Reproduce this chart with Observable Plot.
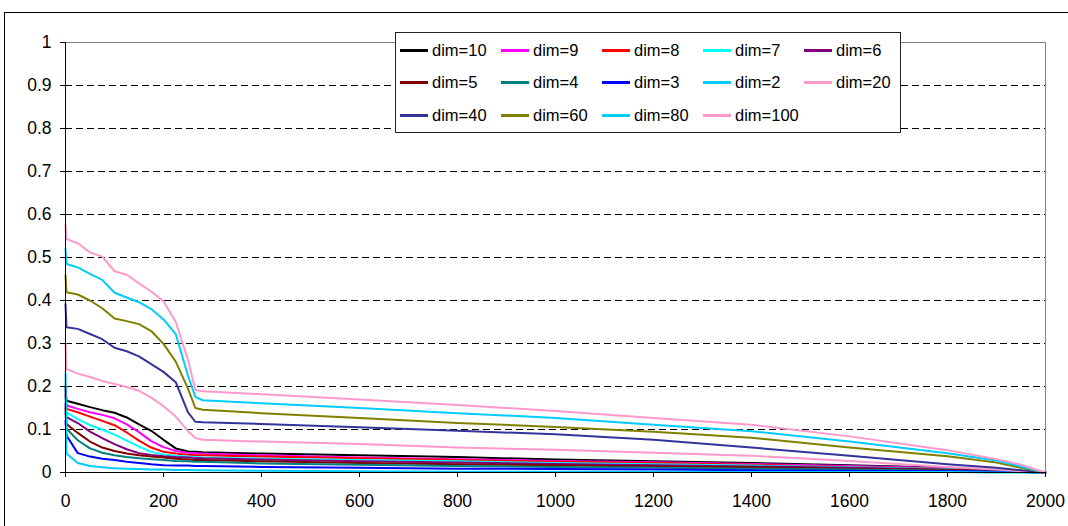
<!DOCTYPE html>
<html>
<head>
<meta charset="utf-8">
<script src="https://cdn.jsdelivr.net/npm/d3@7"></script>
<script src="https://cdn.jsdelivr.net/npm/@observablehq/plot@0.6"></script>
<style>
  html, body { margin: 0; padding: 0; background: #fff; overflow: hidden; }
  #wrap { position: relative; width: 1068px; height: 526px; overflow: hidden; font-family: "Liberation Sans", Arial, sans-serif; }
  #frame { position: absolute; left: 4px; top: 12px; width: 1080px; height: 540px; border: 1px solid #000; box-sizing: border-box; pointer-events: none; }
  #legend { position: absolute; left: 395px; top: 32px; width: 506px; height: 101px; box-sizing: border-box; border: 1px solid #222; background: #fff; }
  .item { position: absolute; display: flex; align-items: center; height: 20px; font-size: 16.5px; color: #000; white-space: nowrap; }
  .sw { width: 28px; height: 3px; margin-right: 4px; }
  svg text { font-family: "Liberation Sans", Arial, sans-serif !important; font-size: 17.5px !important; }
</style>
</head>
<body>
<div id="wrap"><div id="frame"></div></div>
<script>
// ---- data ----
const xs = [0, 2, 25, 50, 75, 100, 125, 150, 175, 200, 225, 250, 265, 280, 400, 600, 800, 1000, 1200, 1400, 1600, 1800, 1900, 1950, 2000];

const dim10  = [0.200, 0.167, 0.160, 0.152, 0.145, 0.139, 0.128, 0.112, 0.097, 0.076, 0.056, 0.049, 0.048, 0.047, 0.044, 0.040, 0.036, 0.030, 0.026, 0.022, 0.017, 0.011, 0.006, 0.003, 0];
const dim9   = [0.190, 0.156, 0.148, 0.140, 0.134, 0.126, 0.112, 0.094, 0.073, 0.059, 0.050, 0.046, 0.045, 0.044, 0.040, 0.035, 0.031, 0.027, 0.024, 0.020, 0.015, 0.010, 0.005, 0.002, 0];
const dim8   = [0.180, 0.148, 0.140, 0.130, 0.120, 0.110, 0.093, 0.074, 0.058, 0.048, 0.044, 0.041, 0.040, 0.040, 0.037, 0.033, 0.029, 0.025, 0.022, 0.018, 0.013, 0.009, 0.005, 0.002, 0];
const dim7   = [0.170, 0.140, 0.124, 0.110, 0.100, 0.088, 0.074, 0.060, 0.048, 0.042, 0.039, 0.037, 0.036, 0.035, 0.032, 0.029, 0.026, 0.022, 0.019, 0.016, 0.012, 0.008, 0.004, 0.002, 0];
const dim6   = [0.160, 0.129, 0.115, 0.095, 0.080, 0.066, 0.054, 0.045, 0.041, 0.038, 0.036, 0.035, 0.034, 0.033, 0.030, 0.026, 0.023, 0.020, 0.017, 0.014, 0.011, 0.007, 0.004, 0.002, 0];
const dim5   = [0.150, 0.113, 0.092, 0.072, 0.058, 0.050, 0.044, 0.040, 0.037, 0.035, 0.032, 0.030, 0.029, 0.029, 0.026, 0.022, 0.019, 0.017, 0.014, 0.012, 0.009, 0.006, 0.003, 0.001, 0];
const dim4   = [0.140, 0.102, 0.075, 0.056, 0.046, 0.040, 0.036, 0.033, 0.031, 0.029, 0.027, 0.026, 0.025, 0.025, 0.021, 0.018, 0.015, 0.013, 0.011, 0.009, 0.007, 0.004, 0.002, 0.001, 0];
const dim3   = [0.120, 0.086, 0.045, 0.037, 0.032, 0.029, 0.025, 0.022, 0.019, 0.017, 0.016, 0.016, 0.015, 0.015, 0.013, 0.011, 0.009, 0.008, 0.007, 0.005, 0.004, 0.003, 0.002, 0.001, 0];
const dim2   = [0.230, 0.044, 0.022, 0.015, 0.012, 0.010, 0.009, 0.008, 0.007, 0.007, 0.006, 0.006, 0.005, 0.005, 0.004, 0.003, 0.002, 0.002, 0.002, 0.001, 0.001, 0.001, 0, 0, 0];
const dim20  = [0.300, 0.241, 0.230, 0.222, 0.213, 0.206, 0.199, 0.190, 0.174, 0.154, 0.130, 0.096, 0.080, 0.076, 0.072, 0.066, 0.058, 0.053, 0.046, 0.039, 0.027, 0.013, 0.007, 0.003, 0];
const dim40  = [0.392, 0.338, 0.334, 0.322, 0.310, 0.290, 0.282, 0.270, 0.252, 0.234, 0.210, 0.140, 0.118, 0.117, 0.113, 0.105, 0.097, 0.089, 0.076, 0.058, 0.039, 0.019, 0.011, 0.005, 0];
const dim60  = [0.458, 0.419, 0.414, 0.400, 0.382, 0.358, 0.352, 0.345, 0.329, 0.299, 0.258, 0.195, 0.150, 0.146, 0.138, 0.127, 0.115, 0.106, 0.095, 0.081, 0.058, 0.038, 0.023, 0.011, 0];
const dim80  = [0.520, 0.485, 0.477, 0.462, 0.448, 0.418, 0.407, 0.396, 0.380, 0.356, 0.322, 0.225, 0.176, 0.168, 0.161, 0.150, 0.138, 0.127, 0.111, 0.096, 0.072, 0.045, 0.028, 0.014, 0];
const dim100 = [0.575, 0.543, 0.533, 0.512, 0.502, 0.468, 0.460, 0.440, 0.421, 0.398, 0.350, 0.262, 0.192, 0.189, 0.182, 0.170, 0.157, 0.143, 0.127, 0.111, 0.084, 0.052, 0.031, 0.018, 0];

const seriesNames  = ["dim=10", "dim=9", "dim=8", "dim=7", "dim=6", "dim=5", "dim=4", "dim=3", "dim=2", "dim=20", "dim=40", "dim=60", "dim=80", "dim=100"];
const seriesColors = ["#000000", "#FF00FF", "#FF0000", "#00FFFF", "#800080", "#800000", "#008080", "#0000FF", "#00CCFF", "#FF99CC", "#333399", "#808000", "#00CCFF", "#FF99CC"];
const seriesValues = [dim10, dim9, dim8, dim7, dim6, dim5, dim4, dim3, dim2, dim20, dim40, dim60, dim80, dim100];

const yTicks = [0, 0.1, 0.2, 0.3, 0.4, 0.5, 0.6, 0.7, 0.8, 0.9, 1];
const gridTicks = [0.1, 0.2, 0.3, 0.4, 0.5, 0.6, 0.7, 0.8, 0.9];
const xTicks = [0, 200, 400, 600, 800, 1000, 1200, 1400, 1600, 1800, 2000];

// ---- build ----
const rows = seriesNames.flatMap((name, i) => xs.map((x, j) => ({name, x, y: seriesValues[i][j]})));

const chart = Plot.plot({
  width: 1068, height: 526,
  marginLeft: 65, marginRight: 23, marginTop: 42, marginBottom: 54,
  x: {domain: [0, 2000]},
  y: {domain: [0, 1]},
  color: {domain: seriesNames, range: seriesColors},
  style: {fontFamily: "'Liberation Sans', Arial, sans-serif", fontSize: "17.5px", background: "transparent", color: "#000"},
  marks: [
    Plot.ruleY(gridTicks, {stroke: "#000", strokeDasharray: "7,4", strokeWidth: 1}),
    Plot.ruleY([1], {stroke: "#808080"}),
    Plot.ruleX([2000], {stroke: "#808080"}),
    Plot.line(rows, {x: "x", y: "y", z: "name", stroke: "name", strokeWidth: 2}),
    Plot.axisY({ticks: yTicks, tickFormat: d => String(+d.toFixed(1)), tickSize: 5, tickPadding: 9, label: null}),
    Plot.axisX({ticks: xTicks, tickFormat: d => String(d), tickSize: 5, tickPadding: 17, label: null}),
    Plot.ruleX([0], {stroke: "#000"}),
    Plot.ruleY([0], {stroke: "#000"})
  ]
});
chart.style.position = "absolute";
chart.style.left = "0px";
chart.style.top = "0px";
d3.select(chart).selectAll("text").style("font-size", "17.5px");
const wrap = document.getElementById("wrap");
wrap.insertBefore(chart, wrap.firstChild);

// legend
const legend = document.createElement("div");
legend.id = "legend";
seriesNames.forEach((name, i) => {
  const col = i % 5, row = Math.floor(i / 5);
  const item = document.createElement("div");
  item.className = "item";
  item.style.left = (4 + col * 101) + "px";
  item.style.top = (7 + row * 32.5) + "px";
  const sw = document.createElement("span");
  sw.className = "sw";
  sw.style.background = seriesColors[i];
  const t = document.createElement("span");
  t.textContent = name;
  item.appendChild(sw);
  item.appendChild(t);
  legend.appendChild(item);
});
wrap.appendChild(legend);
</script>
</body>
</html>
